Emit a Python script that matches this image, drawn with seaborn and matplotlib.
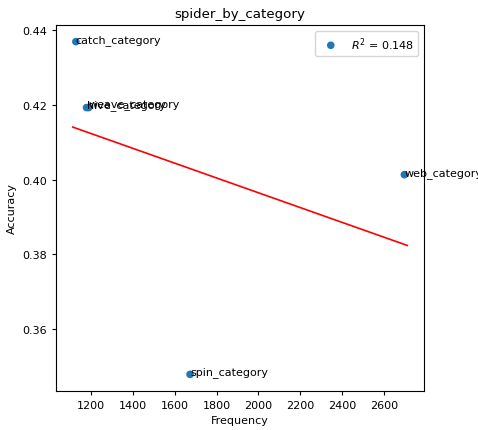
import numpy as np
import pandas as pd
import matplotlib
matplotlib.use("Agg")
import matplotlib.pyplot as plt
from matplotlib.ticker import MultipleLocator
import seaborn as sns

# Per-category frequency vs. accuracy
categories = ["catch_category", "hive_category", "weave_category", "web_category", "spin_category"]
frequency = [1127, 1178, 1188, 2698, 1673]
accuracy = [0.4368, 0.4192, 0.4192, 0.4013, 0.3480]

# Frequency span over which the fitted line is drawn
fit_span = [1112, 2712]

df = pd.DataFrame({"category": categories, "Frequency": frequency, "Accuracy": accuracy})

# Least-squares fit and coefficient of determination
x = np.asarray(frequency, dtype=float)
y = np.asarray(accuracy, dtype=float)
slope, intercept = np.polyfit(x, y, 1)
pred = slope * x + intercept
r2 = 1 - np.sum((y - pred) ** 2) / np.sum((y - y.mean()) ** 2)

plt.rcParams.update({
    "font.size": 8,
    "axes.titlesize": 9.6,
    "axes.labelsize": 8,
    "xtick.labelsize": 8,
    "ytick.labelsize": 8,
    "legend.fontsize": 8,
    "xtick.major.size": 2.8,
    "ytick.major.size": 2.8,
    "axes.linewidth": 0.8,
})

fig, ax = plt.subplots(figsize=(4.78, 4.31), dpi=100)
fig.subplots_adjust(left=56 / 478, right=424 / 478, top=1 - 26 / 431, bottom=1 - 392 / 431)

sns.scatterplot(data=df, x="Frequency", y="Accuracy", ax=ax, s=30,
                color="#1f77b4", edgecolor="none", label=f"$R^2$ = {r2:.3f}")

xs = np.asarray(fit_span, dtype=float)
ax.plot(xs, slope * xs + intercept, color="red", linewidth=1.2)

for name, fx, fy in zip(categories, frequency, accuracy):
    ax.text(fx, fy, name, fontsize=8)

ax.xaxis.set_major_locator(MultipleLocator(200))
ax.set_title("spider_by_category")
ax.set_xlabel("Frequency")
ax.set_ylabel("Accuracy")
ax.legend(loc="upper right")

fig.savefig("out.png", dpi=100)
